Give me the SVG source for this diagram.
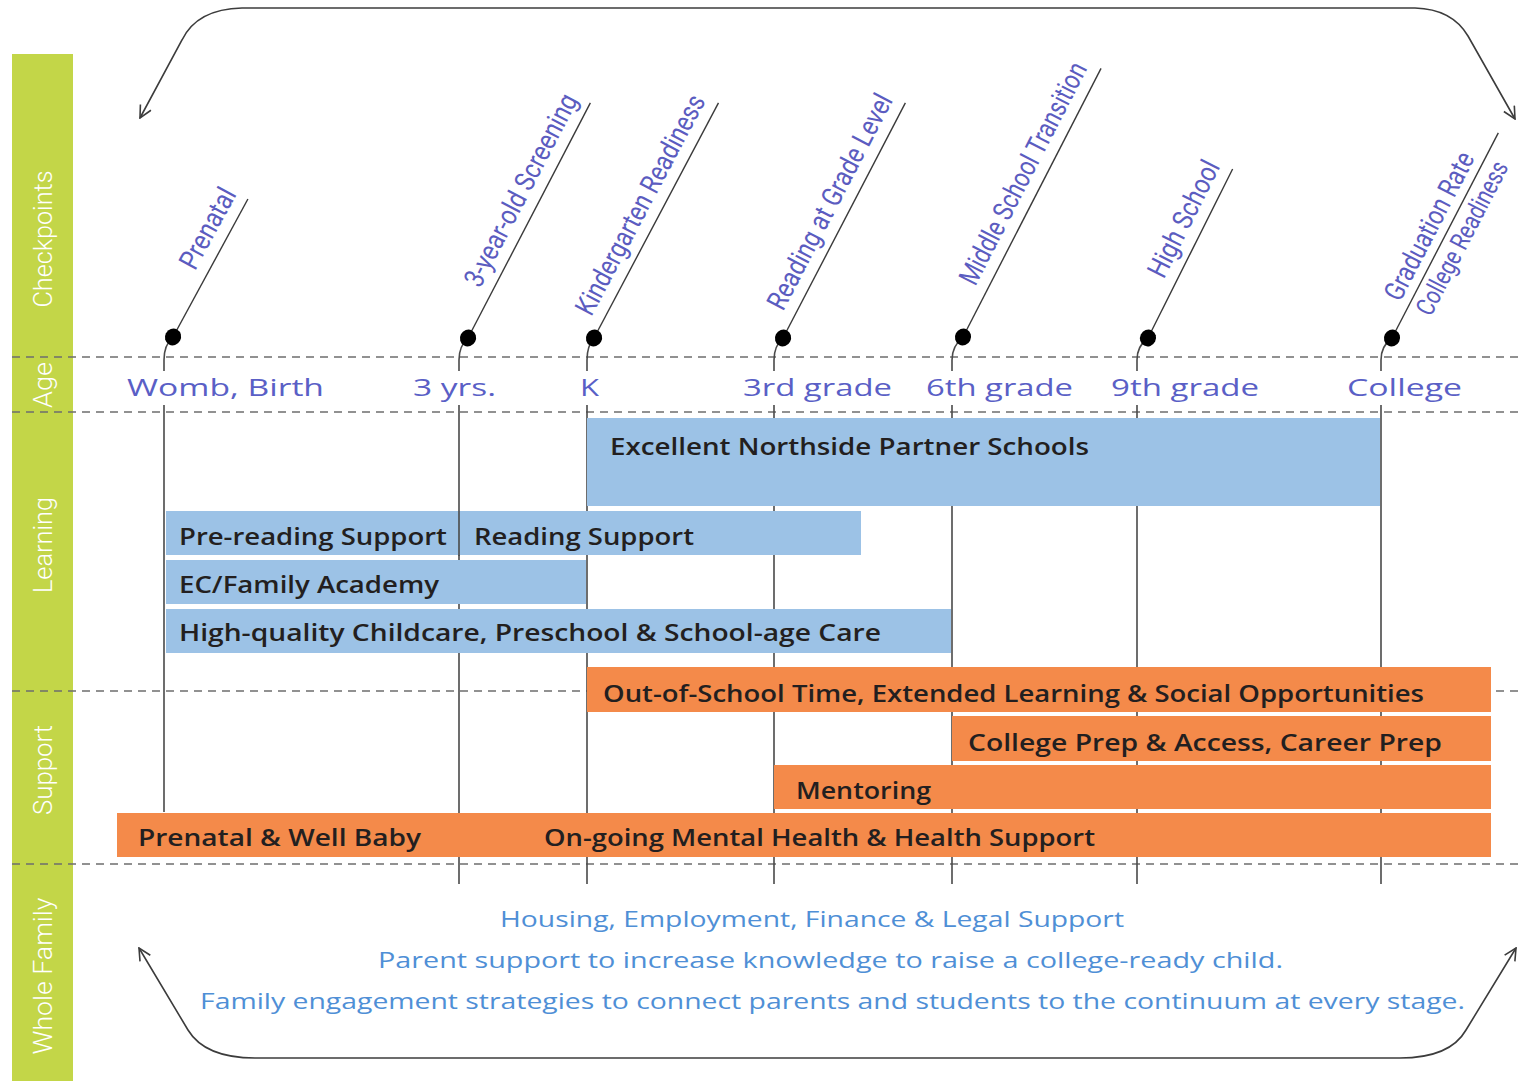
<svg xmlns="http://www.w3.org/2000/svg" width="1528" height="1081" viewBox="0 0 1528 1081">
  <style>
    .lane { fill: #c3d648; }
    .lane-label { font-family: Roboto, "Liberation Sans", sans-serif; font-weight: 300; font-size: 26px; fill: #ffffff; }
    .grid { stroke: #6d6d6d; stroke-width: 1.4; stroke-dasharray: 8 6; fill: none; }
    .tick { stroke: #4a4a4a; stroke-width: 1.6; fill: none; }
    .leader { stroke: #3a3a3a; stroke-width: 1.4; fill: none; }
    .loop { stroke: #3c3c3c; stroke-width: 1.6; fill: none; }
    .dot { fill: #000000; }
    .cp-label { font-family: Roboto, "Liberation Sans", sans-serif; font-size: 28px; fill: #5b5cc0; }
    .age { font-family: "Open Sans", "DejaVu Sans", sans-serif; font-weight: 500; font-size: 24px; fill: #5a5fc6; }
    .learn { fill: #9cc2e6; }
    .support { fill: #f48a4a; }
    .bar-text { font-family: "Open Sans", "DejaVu Sans", sans-serif; font-weight: 600; font-size: 23px; fill: #231f20; }
    .family { font-family: "Open Sans", "DejaVu Sans", sans-serif; font-weight: 500; font-size: 22px; fill: #4f8fd6; }
  </style>
  <defs>
    <marker id="chevron" viewBox="0 0 14 14" refX="13" refY="7" markerWidth="14" markerHeight="14" markerUnits="userSpaceOnUse" orient="auto-start-reverse">
      <path d="M1,1 L13,7 L1,13" fill="none" stroke="#3c3c3c" stroke-width="1.6"/>
    </marker>
  </defs>

  <rect width="1528" height="1081" fill="#ffffff"/>

  <!-- row headings down the left edge -->
  <g id="lanes">
    <rect class="lane" x="12" y="54" width="61" height="1027"/>
    <text class="lane-label" transform="translate(52,239) rotate(-90)" text-anchor="middle" textLength="137" lengthAdjust="spacingAndGlyphs">Checkpoints</text>
    <text class="lane-label" transform="translate(52,385) rotate(-90)" text-anchor="middle" textLength="46" lengthAdjust="spacingAndGlyphs">Age</text>
    <text class="lane-label" transform="translate(52,545) rotate(-90)" text-anchor="middle" textLength="96" lengthAdjust="spacingAndGlyphs">Learning</text>
    <text class="lane-label" transform="translate(52,770) rotate(-90)" text-anchor="middle" textLength="90" lengthAdjust="spacingAndGlyphs">Support</text>
    <text class="lane-label" transform="translate(52,976) rotate(-90)" text-anchor="middle" textLength="157" lengthAdjust="spacingAndGlyphs">Whole Family</text>
  </g>

  <!-- dashed row separators -->
  <g id="gridlines">
    <line class="grid" x1="12" y1="357" x2="1520" y2="357"/>
    <line class="grid" x1="12" y1="412" x2="1520" y2="412"/>
    <line class="grid" x1="12" y1="691" x2="1520" y2="691"/>
    <line class="grid" x1="12" y1="864" x2="1520" y2="864"/>
  </g>

  <g id="connectors">
    <!-- cycle arrows top and bottom -->
    <path class="loop" d="M140,118 L182,40 Q197,9 242,8 L1415,8 Q1452,9 1468,36 L1515,119" marker-start="url(#chevron)" marker-end="url(#chevron)"/>
    <path class="loop" d="M139,948 L188,1030 Q205,1058 255,1058 L1400,1058 Q1450,1058 1466,1030 L1516,948" marker-start="url(#chevron)" marker-end="url(#chevron)"/>
    <!-- timeline stems: a short hook from each checkpoint, broken around the age labels -->
    <path class="tick" d="M173,337 Q164,345 164,360 V371 M164,405 V812"/>
    <path class="tick" d="M468,338 Q459,346 459,360 V371 M459,405 V884"/>
    <path class="tick" d="M594,338 Q587,346 587,360 V371 M587,405 V884"/>
    <path class="tick" d="M783,338 Q774,346 774,360 V371 M774,405 V884"/>
    <path class="tick" d="M963,337 Q952,346 952,360 V371 M952,405 V884"/>
    <path class="tick" d="M1148,338 Q1137,346 1137,360 V371 M1137,405 V884"/>
    <path class="tick" d="M1392,338 Q1381,346 1381,360 V371 M1381,405 V884"/>
  </g>

  <!-- checkpoints: slanted leader with label, dot on the age line -->
  <g id="cp-prenatal" transform="translate(173,337) rotate(-61.5)">
    <line class="leader" x1="0" y1="0" x2="157" y2="0"/>
    <text class="cp-label" x="156" y="-12" text-anchor="end" textLength="88" lengthAdjust="spacingAndGlyphs">Prenatal</text>
    <ellipse class="dot" cx="0" cy="0" rx="8.5" ry="8"/>
  </g>
  <g id="cp-screening" transform="translate(468,338) rotate(-62.5)">
    <line class="leader" x1="0" y1="0" x2="265" y2="0"/>
    <text class="cp-label" x="262" y="-12" text-anchor="end" textLength="213" lengthAdjust="spacingAndGlyphs">3-year-old Screening</text>
    <ellipse class="dot" cx="0" cy="0" rx="8.5" ry="8"/>
  </g>
  <g id="cp-kindergarten" transform="translate(594,338) rotate(-62.1)">
    <line class="leader" x1="0" y1="0" x2="266" y2="0"/>
    <text class="cp-label" x="262" y="-12" text-anchor="end" textLength="245" lengthAdjust="spacingAndGlyphs">Kindergarten Readiness</text>
    <ellipse class="dot" cx="0" cy="0" rx="8.5" ry="8"/>
  </g>
  <g id="cp-reading" transform="translate(783,338) rotate(-62.5)">
    <line class="leader" x1="0" y1="0" x2="265" y2="0"/>
    <text class="cp-label" x="262" y="-12" text-anchor="end" textLength="239" lengthAdjust="spacingAndGlyphs">Reading at Grade Level</text>
    <ellipse class="dot" cx="0" cy="0" rx="8.5" ry="8"/>
  </g>
  <g id="cp-middle" transform="translate(963,337) rotate(-62.8)">
    <line class="leader" x1="0" y1="0" x2="302" y2="0"/>
    <text class="cp-label" x="296" y="-12" text-anchor="end" textLength="246" lengthAdjust="spacingAndGlyphs">Middle School Transition</text>
    <ellipse class="dot" cx="0" cy="0" rx="8.5" ry="8"/>
  </g>
  <g id="cp-high" transform="translate(1148,338) rotate(-63.4)">
    <line class="leader" x1="0" y1="0" x2="189" y2="0"/>
    <text class="cp-label" x="186" y="-12" text-anchor="end" textLength="127" lengthAdjust="spacingAndGlyphs">High School</text>
    <ellipse class="dot" cx="0" cy="0" rx="8.5" ry="8"/>
  </g>
  <g id="cp-graduation" transform="translate(1392,338) rotate(-62.6)">
    <line class="leader" x1="0" y1="0" x2="231" y2="0"/>
    <text class="cp-label" x="198" y="-9" text-anchor="end" textLength="163" lengthAdjust="spacingAndGlyphs">Graduation Rate</text>
    <text class="cp-label" x="206" y="25" text-anchor="end" textLength="170" lengthAdjust="spacingAndGlyphs" style="font-size:26px">College Readiness</text>
    <ellipse class="dot" cx="0" cy="0" rx="8.5" ry="8"/>
  </g>

  <!-- age markers -->
  <g id="ages">
    <text class="age" x="127" y="396" textLength="197" lengthAdjust="spacingAndGlyphs">Womb, Birth</text>
    <text class="age" x="413" y="396" textLength="83" lengthAdjust="spacingAndGlyphs">3 yrs.</text>
    <text class="age" x="580" y="396" textLength="19" lengthAdjust="spacingAndGlyphs">K</text>
    <text class="age" x="743" y="396" textLength="149" lengthAdjust="spacingAndGlyphs">3rd grade</text>
    <text class="age" x="926" y="396" textLength="147" lengthAdjust="spacingAndGlyphs">6th grade</text>
    <text class="age" x="1111" y="396" textLength="148" lengthAdjust="spacingAndGlyphs">9th grade</text>
    <text class="age" x="1347" y="396" textLength="115" lengthAdjust="spacingAndGlyphs">College</text>
  </g>

  <!-- learning programmes -->
  <g id="bar-partner-schools">
    <rect class="learn" x="587" y="418" width="793" height="88"/>
    <text class="bar-text" x="610" y="455" textLength="479" lengthAdjust="spacingAndGlyphs">Excellent Northside Partner Schools</text>
  </g>
  <g id="bar-reading">
    <rect class="learn" x="166" y="511" width="695" height="44"/>
    <line class="tick" x1="459" y1="511" x2="459" y2="556"/>
    <text class="bar-text" x="179" y="545" textLength="268" lengthAdjust="spacingAndGlyphs">Pre-reading Support</text>
    <text class="bar-text" x="474" y="545" textLength="220" lengthAdjust="spacingAndGlyphs">Reading Support</text>
  </g>
  <g id="bar-ec-academy">
    <rect class="learn" x="166" y="560" width="420" height="44"/>
    <text class="bar-text" x="179" y="593" textLength="260" lengthAdjust="spacingAndGlyphs">EC/Family Academy</text>
  </g>
  <g id="bar-childcare">
    <rect class="learn" x="166" y="609" width="785" height="44"/>
    <text class="bar-text" x="179" y="641" textLength="702" lengthAdjust="spacingAndGlyphs">High-quality Childcare, Preschool &amp; School-age Care</text>
  </g>

  <!-- support programmes -->
  <g id="bar-out-of-school">
    <rect class="support" x="587" y="667" width="904" height="45"/>
    <text class="bar-text" x="603" y="702" textLength="821" lengthAdjust="spacingAndGlyphs">Out-of-School Time, Extended Learning &amp; Social Opportunities</text>
  </g>
  <g id="bar-college-prep">
    <rect class="support" x="952" y="716" width="539" height="45"/>
    <text class="bar-text" x="968" y="751" textLength="474" lengthAdjust="spacingAndGlyphs">College Prep &amp; Access, Career Prep</text>
  </g>
  <g id="bar-mentoring">
    <rect class="support" x="774" y="765" width="717" height="44"/>
    <text class="bar-text" x="796" y="799" textLength="135" lengthAdjust="spacingAndGlyphs">Mentoring</text>
  </g>
  <g id="bar-health">
    <rect class="support" x="117" y="813" width="1374" height="44"/>
    <text class="bar-text" x="138" y="846" textLength="283" lengthAdjust="spacingAndGlyphs">Prenatal &amp; Well Baby</text>
    <text class="bar-text" x="544" y="846" textLength="551" lengthAdjust="spacingAndGlyphs">On-going Mental Health &amp; Health Support</text>
  </g>

  <!-- whole-family services -->
  <g id="family-support">
    <text class="family" x="500" y="927" textLength="624" lengthAdjust="spacingAndGlyphs">Housing, Employment, Finance &amp; Legal Support</text>
    <text class="family" x="378" y="968" textLength="905" lengthAdjust="spacingAndGlyphs">Parent support to increase knowledge to raise a college-ready child.</text>
    <text class="family" x="200" y="1009" textLength="1265" lengthAdjust="spacingAndGlyphs">Family engagement strategies to connect parents and students to the continuum at every stage.</text>
  </g>
</svg>
